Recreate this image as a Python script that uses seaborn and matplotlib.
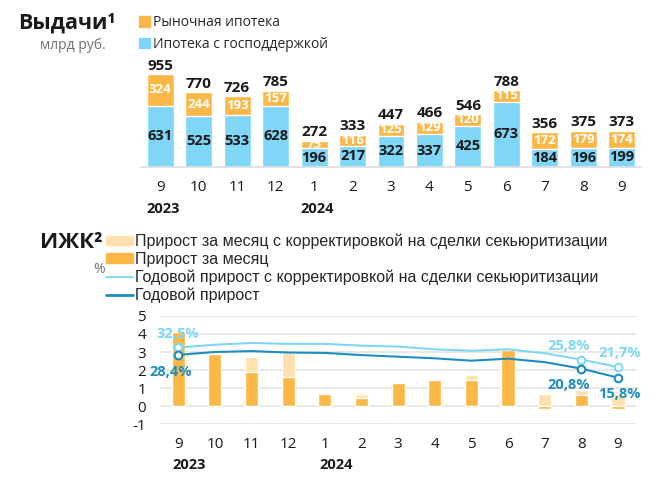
import matplotlib
matplotlib.use("Agg")
import matplotlib.pyplot as plt
import numpy as np
import pandas as pd
import seaborn as sns
from matplotlib.patches import Patch
from matplotlib.lines import Line2D

sns.set_style("white")
plt.rcParams['font.family'] = ['Open Sans', 'DejaVu Sans']

################################################################
# data
months = ["9", "10", "11", "12", "1", "2", "3", "4", "5", "6", "7", "8", "9"]
years = {"2023": 0, "2024": 4}

market = [324, 244, 193, 157, 75, 116, 125, 129, 120, 115, 172, 179, 174]
subsidized = [631, 525, 533, 628, 196, 217, 322, 337, 425, 673, 184, 196, 199]
totals = [955, 770, 726, 785, 272, 333, 447, 466, 546, 788, 356, 375, 373]

growth_adj = [4.2, 2.87, 2.74, 2.93, 0.70, 0.67, 1.26, 1.44, 1.72, 3.1, 0.67, 0.89, 0.65]
growth = [4.1, 2.87, 1.87, 1.61, 0.70, 0.44, 1.26, 1.44, 1.43, 3.1, -0.17, 0.63, -0.17]
yoy_adj = [3.25, 3.4, 3.5, 3.45, 3.45, 3.35, 3.3, 3.15, 3.07, 3.15, 2.93, 2.58, 2.17]
yoy = [2.84, 3.0, 3.05, 2.97, 2.95, 2.83, 2.74, 2.65, 2.52, 2.63, 2.44, 2.08, 1.58]
marked = [0, 11, 12]

ORANGE = "#FDB746"
LIGHT_ORANGE = "#FFE0AE"
LIGHT_BLUE = "#80D6F7"
DARK_BLUE = "#1C8DBE"
GRAY = "#707070"
TEXT = "#1a1a1a"

idx = np.arange(len(months))
df = pd.DataFrame({"i": idx, "market": market, "subsidized": subsidized,
                   "stack": np.array(market) + np.array(subsidized),
                   "growth_adj": growth_adj, "growth": growth,
                   "yoy_adj": yoy_adj, "yoy": yoy})

fig = plt.figure(figsize=(6.5, 4.8), dpi=100)

################################################################
# top: issuance
ax1 = fig.add_axes([0.217, 0.652, 0.769, 0.223])
sns.barplot(data=df, x="i", y="stack", color=ORANGE, width=0.7,
            saturation=1, ax=ax1)
sns.barplot(data=df, x="i", y="subsidized", color=LIGHT_BLUE, width=0.7,
            saturation=1, ax=ax1)
ax1.set_xlim(-0.5, 12.5)
ax1.set_ylim(0, 1100)
ax1.axhline(0, color="#dddddd", lw=1.2, clip_on=False)
for s in ax1.spines.values():
    s.set_visible(False)
ax1.set_yticks([])
ax1.set_xlabel("")
ax1.set_ylabel("")
ax1.set_xticks(idx)
ax1.set_xticklabels(months, fontsize=11, color=TEXT)
ax1.tick_params(axis="x", length=0, pad=9)

for i in idx:
    ax1.annotate(str(totals[i]), (i, df["stack"][i]), xytext=(0, 1),
                 textcoords="offset points", ha="center", va="bottom",
                 fontsize=11, fontweight="bold", color=TEXT)
    ax1.text(i, subsidized[i] + market[i] / 2, str(market[i]), ha="center",
             va="center", fontsize=9.5, fontweight="bold", color="white")
    ax1.text(i, subsidized[i] / 2, str(subsidized[i]), ha="center",
             va="center", fontsize=10.5, fontweight="bold", color=TEXT)

for y, i in years.items():
    ax1.annotate(y, (i - 0.35, 0), xycoords=("data", "data"),
                 xytext=(0, -30), textcoords="offset points", ha="left",
                 va="center", fontsize=10.5, fontweight="bold", color=TEXT)

fig.text(0.028, 0.951, "Выдачи¹", fontsize=15.5, fontweight="bold",
         color=TEXT, va="center")
fig.text(0.162, 0.905, "млрд руб.", fontsize=10, color=GRAY, va="center",
         ha="right")
ax1.legend(handles=[Patch(color=ORANGE, label="Рыночная ипотека"),
                    Patch(color=LIGHT_BLUE, label="Ипотека с господдержкой")],
           loc="upper left", bbox_to_anchor=(0.214, 0.968),
           bbox_transform=fig.transFigure, frameon=False, fontsize=10,
           handlelength=0.75, handleheight=0.75, handletextpad=0.25,
           labelspacing=0.45, borderpad=0, borderaxespad=0)

################################################################
# bottom: IZhK growth
ax2 = fig.add_axes([0.246, 0.116, 0.733, 0.226])
sns.barplot(data=df, x="i", y="growth_adj", color=LIGHT_ORANGE, width=0.36,
            saturation=1, ax=ax2)
sns.barplot(data=df, x="i", y="growth", color=ORANGE, width=0.36,
            saturation=1, ax=ax2)
sns.lineplot(data=df, x="i", y="yoy_adj", color=LIGHT_BLUE, lw=1.5, ax=ax2)
sns.lineplot(data=df, x="i", y="yoy", color=DARK_BLUE, lw=1.5, ax=ax2)
sns.scatterplot(x=idx[marked], y=np.array(yoy_adj)[marked], color="white",
                edgecolor=LIGHT_BLUE, linewidth=1.5, s=30, zorder=5, ax=ax2)
sns.scatterplot(x=idx[marked], y=np.array(yoy)[marked], color="white",
                edgecolor=DARK_BLUE, linewidth=1.5, s=30, zorder=5, ax=ax2)

ax2.set_xlim(-0.5, 12.5)
ax2.set_ylim(-1, 5)
ax2.set_yticks(range(-1, 6))
ax2.set_yticklabels([str(v) for v in range(-1, 6)], fontsize=11, color=TEXT)
ax2.grid(axis="y", color="#e3e3e3", lw=1.2)
ax2.set_axisbelow(True)
for s in ax2.spines.values():
    s.set_visible(False)
ax2.set_xlabel("")
ax2.set_ylabel("")
ax2.set_xticks(idx)
ax2.set_xticklabels(months, fontsize=11, color=TEXT)
ax2.tick_params(axis="x", length=0, pad=9)
ax2.tick_params(axis="y", length=0, pad=10)

for y, i in years.items():
    ax2.annotate(y, (i - 0.15, -1), xytext=(0, -29),
                 textcoords="offset points", ha="left", va="center",
                 fontsize=10.5, fontweight="bold", color=TEXT)

# percent labels
pct_adj = {0: ("32,5%", 0, 10), 11: ("25,8%", -0.35, 10), 12: ("21,7%", 0.05, 10)}
pct = {0: ("28,4%", -0.2, -12), 11: ("20,8%", -0.35, -12), 12: ("15,8%", 0.05, -12)}
for i, (lab, dx, dy) in pct_adj.items():
    ax2.annotate(lab, (i + dx, yoy_adj[i]), xytext=(0, dy),
                 textcoords="offset points", ha="center", va="center",
                 fontsize=10.5, fontweight="bold", color=LIGHT_BLUE)
for i, (lab, dx, dy) in pct.items():
    ax2.annotate(lab, (i + dx, yoy[i]), xytext=(0, dy),
                 textcoords="offset points", ha="center", va="center",
                 fontsize=10.5, fontweight="bold", color=DARK_BLUE)

fig.text(0.062, 0.494, "ИЖК²", fontsize=16, fontweight="bold",
         color=TEXT, va="center")
fig.text(0.162, 0.438, "%", fontsize=10, color=GRAY, va="center",
         ha="right")
leg2 = ax2.legend(handles=[
    Patch(color=LIGHT_ORANGE, label="Прирост за месяц с корректировкой на сделки секьюритизации"),
    Patch(color=ORANGE, label="Прирост за месяц"),
    Line2D([], [], color=LIGHT_BLUE, lw=1.3, label="Годовой прирост с корректировкой на сделки секьюритизации"),
    Line2D([], [], color=DARK_BLUE, lw=2, label="Годовой прирост")],
    loc="upper left", bbox_to_anchor=(0.163, 0.514),
    bbox_transform=fig.transFigure, frameon=False,
    prop={"family": ["Liberation Sans", "DejaVu Sans"], "size": 11.5},
    handlelength=1.7, handleheight=0.5, handletextpad=0.1,
    labelspacing=0.18, borderpad=0, borderaxespad=0)

plt.savefig("out.png", dpi=100)
